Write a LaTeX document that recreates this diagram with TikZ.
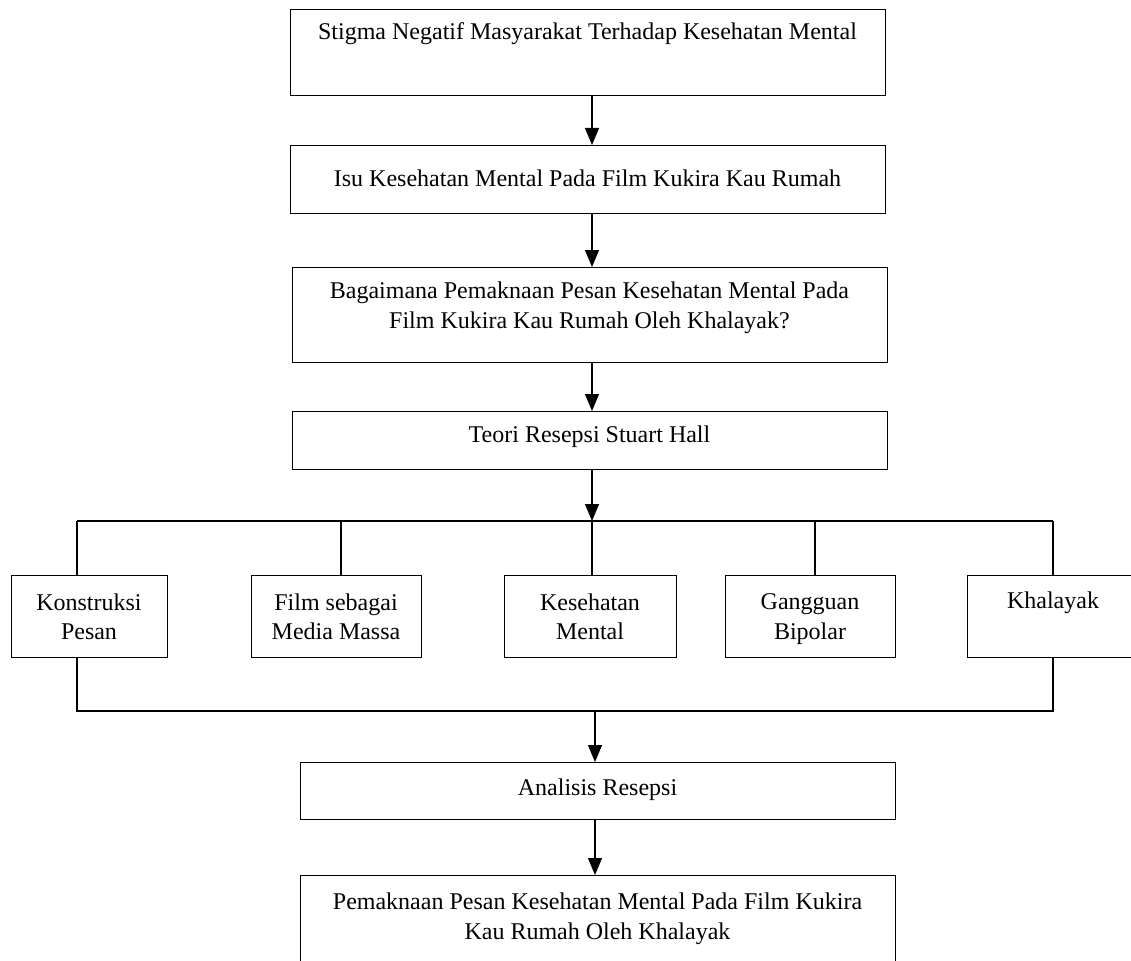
\documentclass[tikz,border=0pt]{standalone}
\usepackage{fontspec}
\setmainfont{Liberation Serif}
\usetikzlibrary{arrows.meta}
\begin{document}
\begin{tikzpicture}[x=1pt,y=-1pt,
  box/.style={draw, line width=1.2pt, inner sep=0pt, anchor=north west},
  txt/.style={font=\fontsize{24}{29.5}\selectfont, align=center, inner sep=0pt},
  conn/.style={line width=1.2pt},
  arr/.style={conn, -{Triangle[length=17pt,width=14pt]}}]
\useasboundingbox (0,0) rectangle (1131,960);
\fill[white] (0,0) rectangle (1131,960);
\clip (0,0) rectangle (1131,960);
% main boxes
\node[box, minimum width=595pt, minimum height=86pt] (b1) at (290,9) {};
\node[box, minimum width=595pt, minimum height=68pt] (b2) at (290,145) {};
\node[box, minimum width=595pt, minimum height=95pt] (b3) at (292,267) {};
\node[box, minimum width=595pt, minimum height=58pt] (b4) at (292,411) {};
% row boxes
\node[box, minimum width=156pt, minimum height=82pt] (k1) at (11,575) {};
\node[box, minimum width=170pt, minimum height=82pt] (k2) at (251,575) {};
\node[box, minimum width=172pt, minimum height=82pt] (k3) at (504,575) {};
\node[box, minimum width=170pt, minimum height=82pt] (k4) at (725,575) {};
\node[box, minimum width=172pt, minimum height=82pt] (k5) at (967,575) {};
% lower boxes
\node[box, minimum width=595pt, minimum height=57pt] (b5) at (300,762) {};
\node[box, minimum width=595pt, minimum height=120pt] (b6) at (300,875) {};
% texts
\node[txt] (t1) at (587.5,34) {Stigma Negatif Masyarakat Terhadap Kesehatan Mental};
\node[txt] (t2) at (587.5,178) {Isu Kesehatan Mental Pada Film Kukira Kau Rumah};
\node[txt] (t3) at (589.5,308) {Bagaimana Pemaknaan Pesan Kesehatan Mental Pada\\Film Kukira Kau Rumah Oleh Khalayak?};
\node[txt] (t4) at (589.5,437) {Teori Resepsi Stuart Hall};
\node[txt] (r1) at (89,617) {Konstruksi\\Pesan};
\node[txt] (r2) at (336,617) {Film sebagai\\Media Massa};
\node[txt] (r3) at (590,617) {Kesehatan\\Mental};
\node[txt] (r4) at (810,619) {Gangguan\\Bipolar};
\node[txt] (r5) at (1053,603) {Khalayak};
\node[txt] (t5) at (597.5,790) {Analisis Resepsi};
\node[txt] (t6) at (597.5,919) {Pemaknaan Pesan Kesehatan Mental Pada Film Kukira\\Kau Rumah Oleh Khalayak};
% connector coordinates
\coordinate (ax) at (592,0);
\coordinate (j1) at (592,521);
\coordinate (bl) at (77,521);
\coordinate (br) at (1053,521);
\coordinate (u2) at (341,521);
\coordinate (u4) at (815,521);
\coordinate (dl) at (77,711);
\coordinate (dr) at (1053,711);
\coordinate (j2) at (595,711);
% connectors
\draw[arr] (b1.south -| ax) -- (b2.north -| ax);
\draw[arr] (b2.south -| ax) -- (b3.north -| ax);
\draw[arr] (b3.south -| ax) -- (b4.north -| ax);
\draw[arr] (b4.south -| j1) -- (j1);
\draw[conn] (bl) -- (br);
\draw[conn] (bl) -- (bl |- k1.north);
\draw[conn] (u2) -- (u2 |- k2.north);
\draw[conn] (j1) -- (j1 |- k3.north);
\draw[conn] (u4) -- (u4 |- k4.north);
\draw[conn] (br) -- (br |- k5.north);
\draw[conn] (dl |- k1.south) -- (dl) -- (dr) -- (dr |- k5.south);
\draw[arr] (j2) -- (j2 |- b5.north);
\draw[arr] (b5.south -| j2) -- (j2 |- b6.north);
\end{tikzpicture}
\end{document}
